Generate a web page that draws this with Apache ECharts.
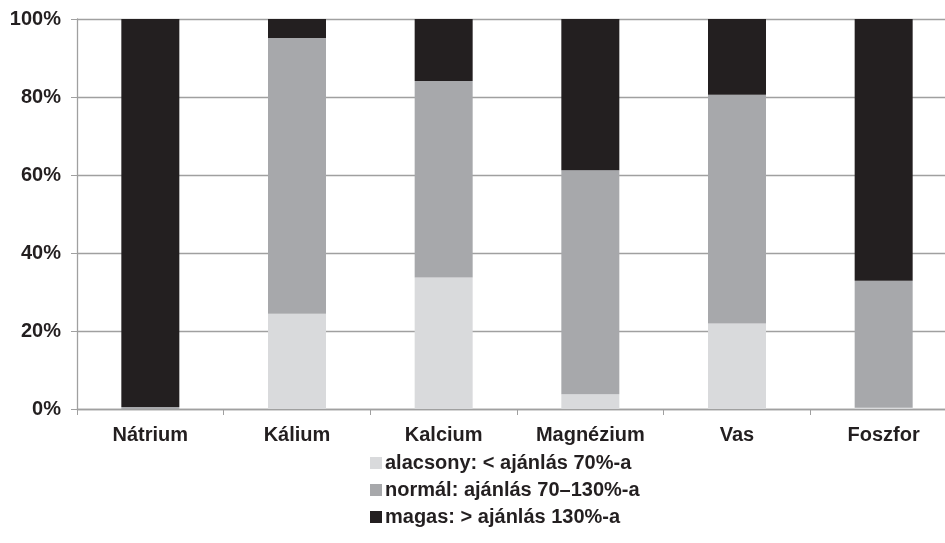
<!DOCTYPE html>
<html>
<head>
<meta charset="utf-8">
<script src="https://cdn.jsdelivr.net/npm/echarts@6/dist/echarts.min.js"></script>
<style>
  html, body { margin: 0; padding: 0; background: #fff; }
  #chart { width: 945px; height: 543px; }
</style>
</head>
<body>
<div id="chart"></div>
<script>
// Ásványianyag-bevitel megoszlása az ajánláshoz képest (%)
const categories = ['Nátrium', 'Kálium', 'Kalcium', 'Magnézium', 'Vas', 'Foszfor'];
const lowValues    = [0,    24.4, 33.7, 3.8,  21.9, 0.3];
const normalValues = [0.5,  70.7, 50.4, 57.4, 58.7, 32.6];
const highValues   = [99.5, 4.9,  15.9, 38.8, 19.4, 67.1];
const seriesNames = ['alacsony: < ajánlás 70%-a', 'normál: ajánlás 70–130%-a', 'magas: > ajánlás 130%-a'];
const yTicks = [0, 20, 40, 60, 80, 100];

const colors = ['#d9dadc', '#a7a8ab', '#231f20'];
const font = 'Liberation Sans, Arial, sans-serif';

const chart = echarts.init(document.getElementById('chart'), null, { renderer: 'canvas' });

const mk = (name, data, color) => ({
  name: name,
  type: 'bar',
  stack: 'total',
  barWidth: 58,
  barGap: '-100%',
  data: data,
  itemStyle: { color: color },
  emphasis: { disabled: true }
});

chart.setOption({
  animation: false,
  textStyle: { fontFamily: font },
  // the plot runs slightly past the right edge of the canvas
  grid: { left: 77, top: 19, right: -12, bottom: 134, containLabel: false, outerBoundsMode: 'none' },
  xAxis: {
    type: 'category',
    data: categories,
    axisLine: { lineStyle: { color: '#a0a0a0', width: 1.3 } },
    axisTick: { show: true, length: 6, lineStyle: { color: '#a0a0a0' } },
    axisLabel: { color: '#231f20', fontSize: 20, fontWeight: 'bold', margin: 16, fontFamily: font }
  },
  yAxis: {
    type: 'value',
    min: yTicks[0],
    max: yTicks[yTicks.length - 1],
    interval: 20,
    axisLine: { show: true, lineStyle: { color: '#a0a0a0', width: 1.3 } },
    axisTick: { show: true, length: 6, lineStyle: { color: '#a0a0a0' } },
    splitLine: { lineStyle: { color: '#a0a0a0', width: 1.3 } },
    axisLabel: { color: '#231f20', fontSize: 20, fontWeight: 'bold', margin: 16, fontFamily: font,
      formatter: v => v + '%' }
  },
  legend: {
    orient: 'vertical',
    left: 365,
    top: 448,
    itemWidth: 12,
    itemHeight: 12,
    itemGap: 7,
    icon: 'rect',
    selectedMode: false,
    textStyle: { color: '#231f20', fontSize: 20, fontWeight: 'bold', fontFamily: font, padding: [0, 0, 0, -2] },
    data: seriesNames
  },
  series: [
    mk(seriesNames[0], lowValues, colors[0]),
    mk(seriesNames[1], normalValues, colors[1]),
    mk(seriesNames[2], highValues, colors[2])
  ]
});
</script>
</body>
</html>
